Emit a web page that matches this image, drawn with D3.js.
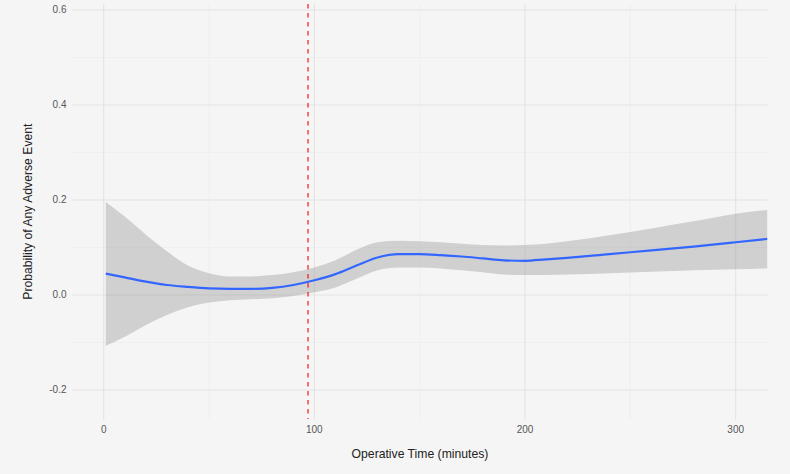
<!DOCTYPE html>
<html><head><meta charset="utf-8">
<script src="https://cdn.jsdelivr.net/npm/d3@7"></script>
<style>html,body{margin:0;padding:0;background:#f5f5f5;}svg{display:block;}</style>
</head><body>
<svg id="chart" width="790" height="474"></svg>
<script>
const times = [1,10,20,30,40,50,60,70,80,90,100,110,120,130,140,150,160,170,180,190,200,210,220,240,260,280,300,315];
const fitValues = [0.045,0.037,0.028,0.021,0.017,0.014,0.013,0.013,0.015,0.021,0.031,0.044,0.062,0.079,0.086,0.086,0.084,0.081,0.077,0.073,0.072,0.075,0.078,0.086,0.094,0.102,0.111,0.118];
const upperValues = [0.196,0.165,0.127,0.092,0.062,0.046,0.039,0.039,0.042,0.048,0.058,0.073,0.095,0.111,0.114,0.113,0.111,0.108,0.105,0.104,0.105,0.108,0.113,0.126,0.140,0.155,0.171,0.179];
const lowerValues = [-0.107,-0.088,-0.063,-0.042,-0.026,-0.016,-0.011,-0.009,-0.007,-0.002,0.006,0.016,0.034,0.052,0.058,0.058,0.056,0.052,0.048,0.043,0.042,0.042,0.043,0.046,0.049,0.052,0.054,0.056];
const xTicks = [0,100,200,300];
const xMinorTicks = [50,150,250];
const yTicks = [-0.2,0.0,0.2,0.4,0.6];
const yMinorTicks = [-0.1,0.1,0.3,0.5];
const cutoff = 97;
const xTitle = "Operative Time (minutes)";
const yTitle = "Probability of Any Adverse Event";

const svg = d3.select("#chart");
const W = 790, H = 474;
const L = 72.3, R = 767.7, T = 4, B = 419.3;
const x = d3.scaleLinear().domain([-14.9, 315.2]).range([L, R]);
const y = d3.scaleLinear().domain([-0.2617, 0.6126]).range([B, T]);

svg.append("rect").attr("width", W).attr("height", H).attr("fill", "#f5f5f5");

const defs = svg.append("defs");
defs.append("clipPath").attr("id", "panel").append("rect")
  .attr("x", L).attr("y", T).attr("width", R - L).attr("height", B - T);

const grid = svg.append("g");
grid.selectAll(".ym").data(yMinorTicks).join("line")
  .attr("x1", L).attr("x2", R).attr("y1", d => y(d)).attr("y2", d => y(d))
  .attr("stroke", "#ebebeb").attr("stroke-width", 0.6);
grid.selectAll(".xm").data(xMinorTicks).join("line")
  .attr("y1", T).attr("y2", B).attr("x1", d => x(d)).attr("x2", d => x(d))
  .attr("stroke", "#ebebeb").attr("stroke-width", 0.6);
grid.selectAll(".yM").data(yTicks).join("line")
  .attr("x1", L).attr("x2", R).attr("y1", d => y(d)).attr("y2", d => y(d))
  .attr("stroke", "#e3e3e3").attr("stroke-width", 1.1);
grid.selectAll(".xM").data(xTicks).join("line")
  .attr("y1", T).attr("y2", B).attr("x1", d => x(d)).attr("x2", d => x(d))
  .attr("stroke", "#e3e3e3").attr("stroke-width", 1.1);

const rows = times.map((t, i) => ({t, fit: fitValues[i], lo: lowerValues[i], hi: upperValues[i]}));
const plot = svg.append("g").attr("clip-path", "url(#panel)");

plot.append("path").datum(rows)
  .attr("d", d3.area().x(d => x(d.t)).y0(d => y(d.lo)).y1(d => y(d.hi)).curve(d3.curveMonotoneX))
  .attr("fill", "#999999").attr("fill-opacity", 0.4);

plot.append("path").datum(rows)
  .attr("d", d3.line().x(d => x(d.t)).y(d => y(d.fit)).curve(d3.curveMonotoneX))
  .attr("fill", "none").attr("stroke", "#3366FF").attr("stroke-width", 2.2);

plot.append("line")
  .attr("x1", x(cutoff)).attr("x2", x(cutoff)).attr("y1", T).attr("y2", B)
  .attr("stroke", "#ff0000").attr("stroke-width", 1.1).attr("stroke-dasharray", "4.5,4.5");

const font = "'Liberation Sans', Arial, Helvetica, sans-serif";
const fmtY = d3.formatLocale({decimal: ".", thousands: ",", grouping: [3], currency: ["", ""], minus: "-"}).format(".1f");
svg.append("g").selectAll("text").data(xTicks).join("text")
  .attr("x", d => x(d)).attr("y", 432.5).attr("text-anchor", "middle")
  .attr("font-family", font).attr("font-size", 10).attr("fill", "#555")
  .text(d => String(d));
svg.append("g").selectAll("text").data(yTicks).join("text")
  .attr("x", 66.5).attr("y", d => y(d)).attr("dy", "0.35em").attr("text-anchor", "end")
  .attr("font-family", font).attr("font-size", 10).attr("fill", "#555")
  .text(d => fmtY(d));

svg.append("text").attr("x", (L + R) / 2).attr("y", 458).attr("text-anchor", "middle")
  .attr("font-family", font).attr("font-size", 12.2).attr("fill", "#222").text(xTitle);
svg.append("text").attr("transform", `translate(31.5,${(T + B) / 2}) rotate(-90)`)
  .attr("text-anchor", "middle")
  .attr("font-family", font).attr("font-size", 12.2).attr("fill", "#222").text(yTitle);
</script>
</body></html>
